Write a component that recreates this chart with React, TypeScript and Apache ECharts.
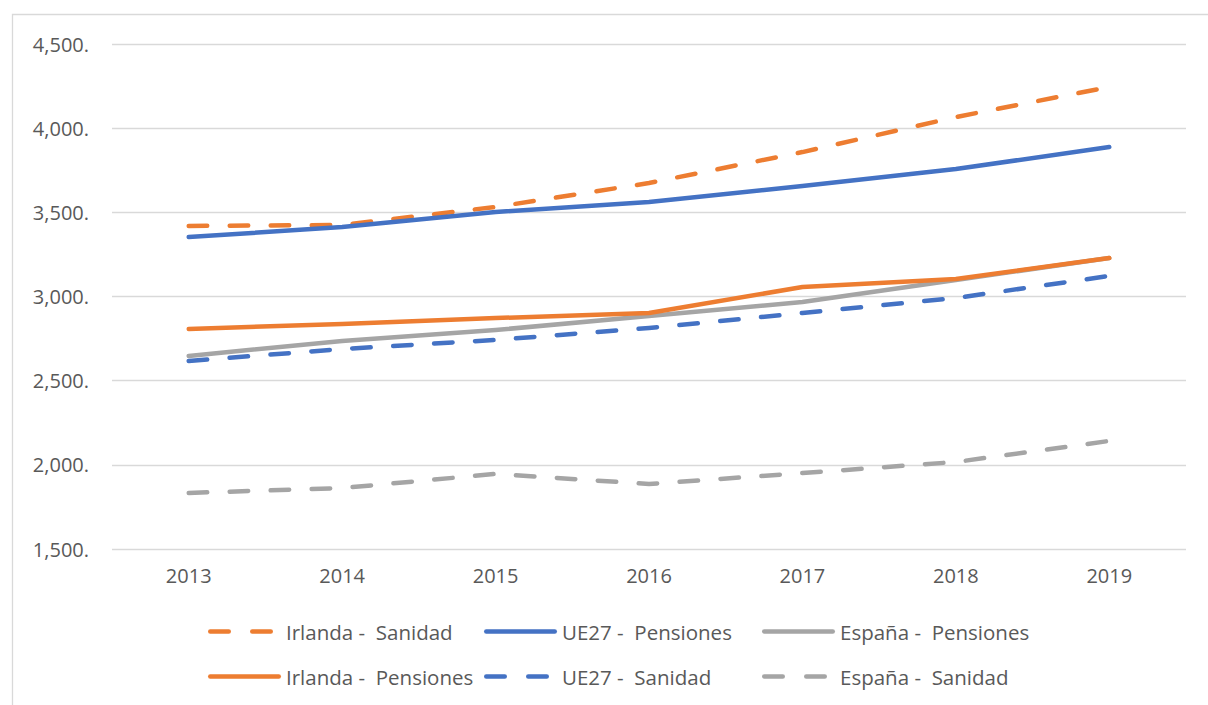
import React, { useEffect, useRef } from "react";
import * as echarts from "echarts";

const years = ["2013", "2014", "2015", "2016", "2017", "2018", "2019"];
const irlandaSanidad = [3419, 3425, 3532, 3674, 3858, 4066, 4245];
const ue27Pensiones = [3353, 3413, 3502, 3561, 3656, 3757, 3888];
const espanaPensiones = [2647, 2736, 2801, 2884, 2967, 3098, 3229];
const irlandaPensiones = [2807, 2837, 2872, 2902, 3056, 3104, 3229];
const ue27Sanidad = [2617, 2688, 2742, 2813, 2902, 2991, 3122];
const espanaSanidad = [1833, 1862, 1946, 1886, 1951, 2017, 2142];

const ORANGE = "#ED7D31";
const BLUE = "#4472C4";
const GREY = "#A5A5A5";
const FONT = "'Open Sans', 'Noto Sans', sans-serif";

const SOLID_ICON =
  "path://M2.25,0 L70.75,0 A2.25,2.25 0 0 1 70.75,4.5 L2.25,4.5 A2.25,2.25 0 0 1 2.25,0 Z";
const DASH_ICON =
  "path://M2.25,0 L20.75,0 A2.25,2.25 0 0 1 20.75,4.5 L2.25,4.5 A2.25,2.25 0 0 1 2.25,0 Z " +
  "M44.25,0 L62.75,0 A2.25,2.25 0 0 1 62.75,4.5 L44.25,4.5 A2.25,2.25 0 0 1 44.25,0 Z " +
  "M73,0 L73,0 L73,4.5 Z";

const seriesDefs = [
  { name: "Irlanda -  Sanidad", data: irlandaSanidad, color: ORANGE, dashed: true, left: 208, row: 0 },
  { name: "UE27 -  Pensiones", data: ue27Pensiones, color: BLUE, dashed: false, left: 484, row: 0 },
  { name: "España -  Pensiones", data: espanaPensiones, color: GREY, dashed: false, left: 762, row: 0 },
  { name: "Irlanda -  Pensiones", data: irlandaPensiones, color: ORANGE, dashed: false, left: 208, row: 1 },
  { name: "UE27 -  Sanidad", data: ue27Sanidad, color: BLUE, dashed: true, left: 484, row: 1 },
  { name: "España -  Sanidad", data: espanaSanidad, color: GREY, dashed: true, left: 762, row: 1 },
];

export default function App() {
  const ref = useRef<HTMLDivElement>(null);
  useEffect(() => {
    if (!ref.current) return;
    const chart = echarts.init(ref.current, null, { renderer: "svg" });
    const rowTops = [621, 666];
    chart.setOption({
      animation: false,
      backgroundColor: "#ffffff",
      textStyle: { fontFamily: FONT },
      graphic: [
        {
          type: "rect",
          shape: { x: 12.5, y: 14.5, width: 1220, height: 720 },
          style: { fill: "none", stroke: "#D9D9D9", lineWidth: 1.3 },
          silent: true,
        },
      ],
      grid: { left: 112, right: 22, top: 44, bottom: 156, containLabel: false },
      legend: seriesDefs.map((s) => ({
        data: [{ name: s.name, icon: s.dashed ? DASH_ICON : SOLID_ICON }],
        left: s.left,
        top: rowTops[s.row],
        itemWidth: 73,
        itemHeight: 4.5,
        padding: 0,
        itemStyle: { color: s.color, borderWidth: 0 },
        textStyle: { fontFamily: FONT, fontSize: 20.5, color: "#595959" },
      })),
      xAxis: {
        type: "category",
        data: years,
        boundaryGap: true,
        axisLine: { show: false },
        axisTick: { show: false },
        axisLabel: { fontFamily: FONT, fontSize: 20, color: "#595959", margin: 16 },
      },
      yAxis: {
        type: "value",
        min: 1500,
        max: 4500,
        interval: 500,
        axisLine: { show: false },
        axisTick: { show: false },
        splitLine: { lineStyle: { color: "#D9D9D9", width: 1.3 } },
        axisLabel: {
          fontFamily: FONT,
          fontSize: 20,
          color: "#595959",
          margin: 23,
          formatter: (v: number) => v.toLocaleString("en-US") + ".",
        },
      },
      series: seriesDefs.map((s) => ({
        name: s.name,
        type: "line",
        data: s.data,
        symbol: "none",
        color: s.color,
        lineStyle: {
          color: s.color,
          width: 4.5,
          type: s.dashed ? [18.5, 22.5] : "solid",
          cap: "round",
          join: "round",
        },
      })),
    });
    return () => chart.dispose();
  }, []);
  return (
    <div
      ref={ref}
      style={{ position: "fixed", left: 0, top: 0, width: 1208, height: 705 }}
    />
  );
}
